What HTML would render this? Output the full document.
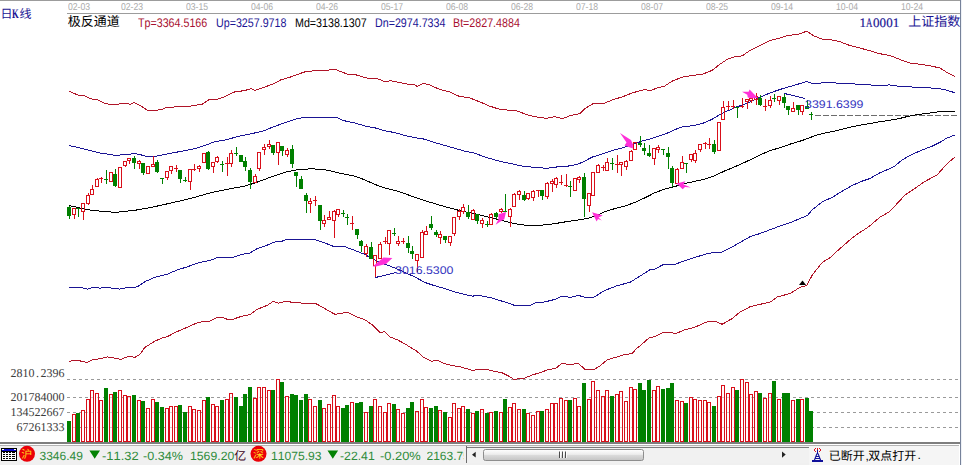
<!DOCTYPE html>
<html><head><meta charset="utf-8"><title>K</title>
<style>
html,body{margin:0;padding:0;background:#fff;}
body{width:962px;height:465px;position:relative;overflow:hidden;font-family:"Liberation Sans",sans-serif;text-rendering:geometricPrecision;font-kerning:none;}
.t{position:absolute;white-space:nowrap;line-height:1;transform-origin:0 0;}
.d{font-size:10px;color:#ababab;top:2.8px;transform:scaleX(.865);}
.v{font-size:12.5px;top:17px;transform:scaleX(.855);}
.s{font-size:12px;color:#2e8b3a;top:449.6px;}
.m{font-family:"Liberation Serif",serif;font-size:12px;color:#3c3c3c;}
.m i{display:inline-block;width:6px;font-style:normal;text-align:center}

.k{font-family:"Liberation Serif",serif;font-size:13px;-webkit-text-stroke:.2px #1a1494;}
.k i{display:inline-block;width:6.65px;font-style:normal;}
.k b{display:inline-block;font-weight:normal;transform:scaleX(.68);transform-origin:0 0}
#sb{position:absolute;left:0;top:445px;width:959px;height:20px;background:#f0f0f0;border-top:1px solid #b4b4b4;box-sizing:border-box}
</style></head><body>
<div style="position:absolute;left:0;top:0;width:962px;height:1px;background:#9c9c9c"></div>
<div style="position:absolute;left:67px;top:13px;width:894px;height:1px;background:#9c9c9c"></div>
<div style="position:absolute;left:960px;top:0;width:1px;height:465px;background:#76829a"></div><div style="position:absolute;left:961px;top:0;width:1px;height:465px;background:#eef1f6"></div>
<div style="position:absolute;left:0;top:442px;width:960px;height:2px;background:#7e7e7e"></div>
<div id="sb"></div><div style="position:absolute;left:809px;top:446px;width:150px;height:19px;background:#f5f5f5"></div>
<svg width="962" height="465" viewBox="0 0 962 465" style="position:absolute;left:0;top:0">
<g shape-rendering="crispEdges"><line x1="67" y1="379.5" x2="958" y2="379.5" stroke="#9a9a9a" stroke-width="1" stroke-dasharray="3 3"/>
<line x1="67" y1="397.5" x2="958" y2="397.5" stroke="#9a9a9a" stroke-width="1" stroke-dasharray="3 3"/>
<line x1="67" y1="412.5" x2="958" y2="412.5" stroke="#9a9a9a" stroke-width="1" stroke-dasharray="3 3"/>
<line x1="67" y1="427.5" x2="958" y2="427.5" stroke="#9a9a9a" stroke-width="1" stroke-dasharray="3 3"/>
<line x1="815" y1="115.5" x2="957" y2="115.5" stroke="#6c6c6c" stroke-width="1" stroke-dasharray="6 2"/>
<path d="M69.2 91.1 L78.7 95.4 L85.0 95.9 L91.2 98.9 L97.4 99.9 L103.7 102.8 L110.0 104.6 L116.1 104.6 L121.1 103.6 L127.4 103.6 L130.0 104.3 L134.1 102.6 L139.8 105.3 L147.3 110.1 L153.6 110.6 L162.3 109.3 L166.0 107.6 L177.3 106.8 L189.7 106.3 L196.0 105.1 L202.2 104.3 L209.0 99.6 L217.2 99.4 L224.7 96.6 L234.7 91.9 L244.6 90.6 L250.9 88.6 L254.6 90.4 L262.1 87.9 L272.1 84.4 L280.8 79.9 L289.5 77.4 L297.5 74.4 L306.2 71.4 L317.4 70.7 L327.4 70.2 L334.9 69.2 L339.9 71.2 L347.4 74.1 L357.4 75.1 L364.9 77.6 L371.1 78.9 L376.1 78.1 L386.1 82.1 L389.8 80.6 L399.8 82.6 L407.3 84.1 L413.5 84.4 L417.3 86.4 L423.5 83.4 L429.7 84.9 L439.7 89.4 L449.7 91.9 L459.7 96.6 L468.4 97.4 L479.6 101.8 L489.6 106.1 L499.6 109.3 L509.6 110.3 L514.6 110.3 L522.0 112.8 L527.5 114.8 L535.0 116.8 L546.2 118.3 L554.9 116.6 L562.4 118.6 L571.1 115.3 L579.9 113.6 L584.9 108.6 L593.6 103.3 L604.8 103.1 L613.6 99.4 L622.3 96.9 L632.3 92.9 L644.8 89.4 L649.7 90.9 L657.2 87.9 L664.7 86.1 L672.2 81.1 L682.2 77.1 L692.2 75.4 L702.1 74.4 L712.1 70.4 L719.6 64.4 L727.1 59.4 L734.6 56.9 L742.1 55.9 L750.0 50.5 L760.0 45.5 L769.9 40.5 L779.9 38.0 L787.4 35.5 L797.4 34.5 L806.8 31.2 L813.6 35.7 L822.3 39.2 L832.3 40.0 L839.8 41.7 L849.8 45.5 L859.7 48.0 L869.7 50.7 L879.7 53.7 L889.7 55.4 L899.6 59.4 L909.6 62.9 L919.6 64.2 L929.6 65.7 L939.6 67.9 L947.0 72.4 L955.0 76.6" fill="none" stroke="#b01428" stroke-width="1" stroke-linejoin="round"/>
<path d="M69.2 361.2 L77.5 360.4 L87.4 362.4 L92.4 359.9 L99.9 358.7 L107.4 356.9 L113.6 357.9 L121.1 359.4 L128.6 356.2 L134.8 357.4 L139.8 354.5 L144.8 347.5 L154.8 341.2 L162.3 337.8 L167.3 336.6 L177.3 331.5 L187.2 327.3 L197.2 322.8 L204.7 321.3 L209.7 321.1 L217.2 317.3 L222.2 317.3 L227.2 319.3 L233.4 319.1 L242.1 316.1 L249.6 314.8 L257.1 309.4 L267.1 305.4 L273.3 301.4 L278.3 303.1 L287.0 301.1 L292.0 302.4 L300.0 302.9 L307.5 303.6 L315.0 303.1 L324.9 308.6 L334.9 314.3 L339.9 313.6 L347.4 312.3 L354.9 316.1 L364.9 319.8 L372.3 324.8 L379.8 332.3 L384.8 331.8 L389.8 336.8 L397.3 339.8 L404.8 343.8 L412.3 348.5 L416.2 350.7 L423.7 357.4 L431.2 361.2 L437.4 360.4 L444.9 363.7 L452.4 365.7 L459.9 366.7 L472.4 370.4 L479.8 369.4 L486.1 369.2 L493.6 371.2 L502.3 372.9 L509.8 376.7 L513.5 379.2 L523.5 378.7 L532.2 374.9 L539.7 372.9 L547.2 369.9 L555.9 368.2 L562.2 363.2 L569.7 364.9 L578.4 363.2 L584.6 369.2 L593.4 369.9 L599.6 366.2 L607.1 359.9 L617.1 356.9 L624.6 354.5 L632.0 353.7 L637.0 348.0 L639.8 346.0 L649.7 337.3 L654.7 336.8 L663.5 332.3 L669.7 332.3 L675.9 333.6 L684.7 329.8 L694.7 327.3 L707.1 321.8 L714.6 321.1 L722.1 324.3 L732.1 318.6 L739.6 312.3 L750.0 306.8 L760.0 304.3 L769.9 302.3 L777.4 296.9 L789.9 293.6 L799.9 287.4 L806.8 285.6 L812.3 274.9 L822.3 262.4 L829.8 257.9 L839.8 248.7 L849.8 240.0 L856.0 235.0 L862.2 231.0 L869.7 226.0 L879.7 217.3 L889.7 211.6 L897.1 203.6 L904.6 195.4 L914.6 188.6 L924.6 181.6 L937.1 174.9 L947.0 163.7 L955.0 156.9" fill="none" stroke="#b01428" stroke-width="1" stroke-linejoin="round"/>
<path d="M69.2 145.5 L80.0 148.0 L89.9 150.5 L99.9 153.0 L109.9 154.5 L116.1 155.4 L124.9 154.5 L134.8 153.7 L139.8 154.5 L146.1 156.4 L154.8 156.4 L164.8 154.5 L174.8 152.5 L184.8 150.7 L194.7 148.7 L204.7 145.5 L214.7 141.7 L224.7 140.2 L234.7 137.4 L244.6 135.0 L254.6 133.0 L264.6 130.7 L272.1 127.3 L284.6 122.8 L290.0 121.0 L297.5 118.6 L306.2 117.3 L317.4 117.3 L336.2 117.3 L343.6 120.6 L354.9 123.0 L364.9 126.0 L374.8 127.8 L384.8 130.8 L394.8 132.6 L404.8 135.5 L414.8 137.6 L424.7 139.2 L434.7 142.5 L444.7 145.5 L454.7 148.2 L464.7 151.2 L474.6 153.2 L484.6 156.9 L494.6 159.9 L504.6 162.4 L514.6 164.4 L522.0 166.0 L530.0 166.9 L540.0 167.9 L547.4 168.2 L557.4 166.9 L567.4 166.2 L577.4 164.4 L584.9 161.0 L592.4 157.0 L602.3 154.0 L612.3 150.5 L622.3 148.0 L632.3 144.5 L642.3 141.0 L652.2 138.3 L662.2 135.0 L667.0 133.3 L672.2 130.8 L677.0 128.8 L682.2 127.0 L692.2 125.8 L702.1 123.6 L712.1 119.3 L719.6 114.8 L727.1 111.1 L737.1 106.8 L744.6 104.3 L752.0 101.0 L760.0 97.3 L769.9 93.0 L779.9 89.5 L789.9 86.5 L799.9 83.6 L806.8 81.4 L812.3 83.6 L822.3 82.9 L832.3 82.9 L839.8 83.1 L849.8 83.6 L859.7 84.4 L869.7 84.9 L879.7 85.6 L889.7 84.9 L899.6 86.4 L909.6 86.9 L919.6 87.4 L929.6 87.9 L939.6 88.6 L947.0 90.3 L955.0 92.8" fill="none" stroke="#1a1494" stroke-width="1" stroke-linejoin="round"/>
<path d="M69.2 287.4 L80.0 287.4 L87.4 289.1 L92.4 287.4 L99.9 288.1 L106.2 287.4 L113.6 288.4 L119.9 289.1 L127.4 287.6 L137.3 286.9 L144.8 281.7 L154.8 277.4 L167.3 274.2 L177.3 269.9 L187.2 266.9 L197.2 263.2 L204.7 261.2 L209.7 260.7 L217.2 257.5 L232.2 257.5 L242.1 254.2 L249.6 253.2 L257.1 248.7 L264.6 246.2 L274.6 242.0 L282.0 241.2 L287.0 239.2 L292.0 240.0 L300.0 239.0 L307.5 239.0 L315.0 239.6 L324.9 243.0 L334.9 247.0 L344.9 246.7 L354.9 250.5 L364.9 254.5 L374.8 260.0 L384.8 264.2 L394.8 267.9 L404.8 272.4 L414.8 276.9 L424.7 282.4 L434.7 285.7 L444.7 288.6 L454.7 291.9 L464.7 294.4 L472.1 296.1 L479.6 295.6 L489.6 297.4 L499.6 300.4 L509.6 303.6 L514.6 305.4 L530.0 305.4 L535.0 302.9 L545.0 301.9 L554.9 299.4 L562.4 296.1 L569.9 297.4 L578.6 295.4 L584.9 297.4 L593.6 297.4 L604.8 290.4 L617.3 285.6 L629.8 282.4 L639.8 276.2 L649.7 269.9 L654.7 269.2 L663.5 264.4 L674.7 264.4 L684.7 260.7 L694.7 257.5 L707.1 253.7 L714.6 252.5 L722.1 252.0 L732.1 247.0 L742.1 241.2 L750.0 236.8 L760.0 233.5 L769.9 229.8 L779.9 226.0 L789.9 222.8 L799.9 218.6 L807.3 215.6 L812.3 209.8 L822.3 201.8 L832.3 197.3 L842.3 191.1 L852.2 185.4 L862.2 181.1 L869.7 178.6 L879.7 172.9 L889.7 168.7 L894.7 166.2 L902.1 159.9 L912.1 154.4 L922.1 150.0 L932.1 146.2 L939.6 142.5 L947.0 138.0 L955.0 135.0" fill="none" stroke="#1a1494" stroke-width="1" stroke-linejoin="round"/>
<path d="M69.2 205.6 L75.0 206.8 L85.0 209.3 L94.9 210.6 L104.9 211.6 L116.1 212.3 L124.9 211.3 L134.8 210.3 L144.8 208.6 L154.8 206.6 L164.8 204.4 L174.8 202.1 L184.8 199.9 L194.7 197.4 L204.7 194.4 L214.7 191.9 L224.7 189.9 L234.7 187.9 L244.6 186.1 L254.6 183.1 L264.6 179.4 L274.6 175.7 L284.6 172.4 L292.0 170.7 L300.0 169.4 L310.0 168.9 L322.4 169.2 L332.4 171.4 L342.4 173.7 L354.9 176.2 L364.9 179.9 L374.8 184.4 L384.8 187.9 L394.8 190.4 L404.8 193.6 L414.8 197.4 L424.7 200.6 L434.7 203.6 L444.7 206.6 L454.7 209.3 L464.7 211.8 L474.6 213.6 L484.6 216.1 L494.6 218.6 L504.6 221.1 L514.6 223.6 L522.0 224.8 L530.0 225.6 L540.0 225.3 L549.9 224.3 L559.9 222.8 L569.9 221.1 L579.9 219.8 L589.9 217.8 L594.9 216.1 L604.8 211.8 L614.8 208.6 L624.8 206.1 L634.8 202.4 L644.8 197.9 L654.7 192.8 L664.7 189.1 L674.7 186.6 L684.7 183.4 L694.7 181.4 L704.6 179.2 L714.6 175.7 L724.6 171.0 L734.6 166.9 L744.6 162.4 L754.5 157.8 L760.0 155.0 L769.9 150.7 L779.9 147.7 L789.9 144.2 L799.9 141.2 L807.3 138.7 L814.8 135.7 L824.8 133.0 L834.8 131.0 L839.8 129.8 L849.8 127.3 L859.7 125.3 L869.7 123.5 L879.7 121.8 L889.7 120.3 L899.6 118.5 L909.6 116.0 L919.6 114.3 L929.6 113.0 L939.6 111.6 L947.0 111.3 L955.0 111.3" fill="none" stroke="#000" stroke-width="1" stroke-linejoin="round"/>
<path d="M67 421h4V442h-4zM76 413h4V442h-4zM104 388h4V442h-4zM113 392h4V442h-4zM132 395h4V442h-4zM141 401h4V442h-4zM155 402h4V442h-4zM160 407h4V442h-4zM178 405h4V442h-4zM183 412h4V442h-4zM206 397h4V442h-4zM220 400h4V442h-4zM234 397h4V442h-4zM239 406h4V442h-4zM243 394h4V442h-4zM248 387h4V442h-4zM271 390h4V442h-4zM280 382h4V442h-4zM290 394h4V442h-4zM294 395h4V442h-4zM299 400h4V442h-4zM304 394h4V442h-4zM318 400h4V442h-4zM341 408h4V442h-4zM345 405h4V442h-4zM355 403h4V442h-4zM359 402h4V442h-4zM369 406h4V442h-4zM392 404h4V442h-4zM406 408h4V442h-4zM410 402h4V442h-4zM429 408h4V442h-4zM434 406h4V442h-4zM443 412h4V442h-4zM466 409h4V442h-4zM475 411h4V442h-4zM485 413h4V442h-4zM494 411h4V442h-4zM503 399h4V442h-4zM522 409h4V442h-4zM540 411h4V442h-4zM568 400h4V442h-4zM582 383h4V442h-4zM610 396h4V442h-4zM638 383h4V442h-4zM642 390h4V442h-4zM647 380h4V442h-4zM661 389h4V442h-4zM666 388h4V442h-4zM670 383h4V442h-4zM684 403h4V442h-4zM712 406h4V442h-4zM735 390h4V442h-4zM758 393h4V442h-4zM772 381h4V442h-4zM782 393h4V442h-4zM786 393h4V442h-4zM796 399h4V442h-4zM805 398h4V442h-4zM809 411h4V442h-4z" fill="#008000"/>
<path d="M72.5 441.5V414.5h3V441.5zM81.5 441.5V410.5h3V441.5zM86.5 441.5V399.5h3V441.5zM90.5 441.5V390.5h3V441.5zM95.5 441.5V393.5h3V441.5zM99.5 441.5V400.5h3V441.5zM109.5 441.5V394.5h3V441.5zM118.5 441.5V390.5h3V441.5zM123.5 441.5V395.5h3V441.5zM127.5 441.5V396.5h3V441.5zM137.5 441.5V400.5h3V441.5zM146.5 441.5V408.5h3V441.5zM151.5 441.5V399.5h3V441.5zM165.5 441.5V408.5h3V441.5zM169.5 441.5V406.5h3V441.5zM174.5 441.5V406.5h3V441.5zM188.5 441.5V406.5h3V441.5zM192.5 441.5V409.5h3V441.5zM197.5 441.5V410.5h3V441.5zM202.5 441.5V400.5h3V441.5zM211.5 441.5V404.5h3V441.5zM215.5 441.5V406.5h3V441.5zM225.5 441.5V399.5h3V441.5zM229.5 441.5V393.5h3V441.5zM253.5 441.5V398.5h3V441.5zM257.5 441.5V387.5h3V441.5zM262.5 441.5V387.5h3V441.5zM267.5 441.5V390.5h3V441.5zM276.5 441.5V379.5h3V441.5zM285.5 441.5V396.5h3V441.5zM308.5 441.5V399.5h3V441.5zM313.5 441.5V406.5h3V441.5zM322.5 441.5V408.5h3V441.5zM327.5 441.5V404.5h3V441.5zM332.5 441.5V395.5h3V441.5zM336.5 441.5V406.5h3V441.5zM350.5 441.5V402.5h3V441.5zM364.5 441.5V412.5h3V441.5zM373.5 441.5V399.5h3V441.5zM378.5 441.5V406.5h3V441.5zM383.5 441.5V412.5h3V441.5zM387.5 441.5V403.5h3V441.5zM396.5 441.5V409.5h3V441.5zM401.5 441.5V413.5h3V441.5zM415.5 441.5V411.5h3V441.5zM420.5 441.5V399.5h3V441.5zM424.5 441.5V407.5h3V441.5zM438.5 441.5V410.5h3V441.5zM448.5 441.5V417.5h3V441.5zM452.5 441.5V403.5h3V441.5zM457.5 441.5V408.5h3V441.5zM461.5 441.5V406.5h3V441.5zM471.5 441.5V413.5h3V441.5zM480.5 441.5V409.5h3V441.5zM489.5 441.5V412.5h3V441.5zM499.5 441.5V412.5h3V441.5zM508.5 441.5V407.5h3V441.5zM512.5 441.5V403.5h3V441.5zM517.5 441.5V409.5h3V441.5zM526.5 441.5V413.5h3V441.5zM531.5 441.5V415.5h3V441.5zM536.5 441.5V411.5h3V441.5zM545.5 441.5V409.5h3V441.5zM550.5 441.5V403.5h3V441.5zM554.5 441.5V403.5h3V441.5zM559.5 441.5V398.5h3V441.5zM564.5 441.5V400.5h3V441.5zM573.5 441.5V398.5h3V441.5zM577.5 441.5V406.5h3V441.5zM587.5 441.5V399.5h3V441.5zM591.5 441.5V381.5h3V441.5zM596.5 441.5V390.5h3V441.5zM601.5 441.5V396.5h3V441.5zM605.5 441.5V390.5h3V441.5zM615.5 441.5V394.5h3V441.5zM619.5 441.5V391.5h3V441.5zM624.5 441.5V401.5h3V441.5zM629.5 441.5V387.5h3V441.5zM633.5 441.5V389.5h3V441.5zM652.5 441.5V390.5h3V441.5zM656.5 441.5V386.5h3V441.5zM675.5 441.5V400.5h3V441.5zM680.5 441.5V401.5h3V441.5zM689.5 441.5V397.5h3V441.5zM693.5 441.5V399.5h3V441.5zM698.5 441.5V400.5h3V441.5zM703.5 441.5V400.5h3V441.5zM707.5 441.5V402.5h3V441.5zM717.5 441.5V396.5h3V441.5zM721.5 441.5V385.5h3V441.5zM726.5 441.5V393.5h3V441.5zM731.5 441.5V387.5h3V441.5zM740.5 441.5V379.5h3V441.5zM745.5 441.5V382.5h3V441.5zM749.5 441.5V394.5h3V441.5zM754.5 441.5V391.5h3V441.5zM763.5 441.5V398.5h3V441.5zM768.5 441.5V393.5h3V441.5zM777.5 441.5V399.5h3V441.5zM791.5 441.5V400.5h3V441.5zM800.5 441.5V399.5h3V441.5z" fill="rgba(255,250,250,.55)" stroke="#d80f1a" stroke-width="1"/>
<path d="M69.5 206V219M78.5 208V217M76 208.5h4M106.5 170V184M104 179.5h4M115.5 169V187M134.5 156V169M143.5 163V175M157.5 160V173M162.5 178V184M160 178.5h4M180.5 170V183M185.5 177V182M183 180.5h4M208.5 151V170M222.5 161V172M220 164.5h4M236.5 147V156M234 153.5h4M241.5 155V162M245.5 157V171M250.5 168V189M273.5 145V155M282.5 146V156M292.5 145V168M296.5 172V187M301.5 176V189M306.5 193V213M320.5 205V230M343.5 210V217M341 213.5h4M347.5 214V225M345 217.5h4M357.5 229V239M361.5 240V252M371.5 242V259M394.5 228V236M392 233.5h4M408.5 236V253M412.5 246V259M431.5 216V230M436.5 230V237M445.5 236V243M468.5 205V219M477.5 214V224M487.5 221V227M485 224.5h4M496.5 212V219M505.5 194V212M503 211.5h4M524.5 191V201M542.5 190V200M570.5 181V197M568 186.5h4M584.5 173V217M612.5 158V170M610 163.5h4M640.5 136V147M644.5 143V155M649.5 145V157M663.5 149V155M661 149.5h4M668.5 147V169M672.5 166V187M686.5 163V173M684 163.5h4M714.5 140V154M737.5 107V118M735 107.5h4M760.5 95V106M774.5 94V102M772 98.5h4M784.5 93V108M788.5 106V115M798.5 105V115M807.5 100V109M811.5 112V120M809 114.5h4" stroke="#008000" stroke-width="1" fill="none"/>
<path d="M67 207h4V216h-4zM113 174h4V186h-4zM132 158h4V163h-4zM141 163h4V173h-4zM155 162h4V172h-4zM178 170h4V179h-4zM206 152h4V169h-4zM239 155h4V162h-4zM243 161h4V167h-4zM248 170h4V182h-4zM271 145h4V153h-4zM280 146h4V151h-4zM290 149h4V164h-4zM294 172h4V176h-4zM299 179h4V189h-4zM304 195h4V201h-4zM318 205h4V221h-4zM355 229h4V235h-4zM359 241h4V246h-4zM369 247h4V259h-4zM406 243h4V248h-4zM410 251h4V254h-4zM429 224h4V228h-4zM434 232h4V235h-4zM443 236h4V240h-4zM466 212h4V217h-4zM475 214h4V221h-4zM494 213h4V217h-4zM522 195h4V200h-4zM540 190h4V196h-4zM582 177h4V199h-4zM638 143h4V145h-4zM642 148h4V151h-4zM647 153h4V156h-4zM666 153h4V157h-4zM670 168h4V183h-4zM712 144h4V152h-4zM758 98h4V105h-4zM782 97h4V103h-4zM786 106h4V110h-4zM796 105h4V110h-4zM805 106h4V109h-4z" fill="#008000"/>
<path d="M74.5 215V219M83.5 212V220M88.5 193V195M88.5 204V205M92.5 185V189M97.5 178V179M101.5 177V183M99 178.5h4M125.5 166V167M129.5 161V164M139.5 160V161M139.5 164V169M153.5 156V164M167.5 178V180M171.5 171V174M176.5 165V172M174 168.5h4M190.5 182V190M194.5 164V171M192 169.5h4M199.5 165V166M199.5 169V172M213.5 167V173M217.5 156V157M217.5 162V163M227.5 157V176M225 163.5h4M231.5 150V153M231.5 164V167M255.5 174V176M259.5 169V171M264.5 144V147M264.5 150V155M269.5 140V144M269.5 147V149M278.5 153V165M287.5 148V150M287.5 155V157M310.5 198V201M310.5 204V213M315.5 196V206M313 200.5h4M324.5 215V220M324.5 224V227M329.5 211V217M334.5 210V211M334.5 221V238M338.5 215V217M352.5 216V230M350 223.5h4M366.5 244V246M366.5 254V257M375.5 266V277M380.5 242V244M385.5 237V244M383 241.5h4M389.5 244V255M398.5 236V241M398.5 244V246M403.5 238V244M401 241.5h4M417.5 261V272M422.5 230V232M426.5 226V231M440.5 231V234M440.5 238V244M450.5 243V246M454.5 234V236M459.5 209V211M459.5 217V220M463.5 204V207M463.5 212V214M473.5 209V210M482.5 218V220M482.5 224V228M491.5 213V214M501.5 208V209M501.5 212V213M510.5 208V209M510.5 217V227M514.5 193V194M519.5 190V191M519.5 195V200M528.5 199V200M533.5 190V191M533.5 198V201M538.5 190V197M536 190.5h4M547.5 182V183M547.5 197V199M552.5 179V181M552.5 184V192M556.5 177V178M556.5 185V188M561.5 175V185M559 182.5h4M566.5 174V187M564 185.5h4M579.5 176V177M579.5 180V183M589.5 206V212M598.5 164V165M603.5 165V171M601 167.5h4M607.5 158V162M617.5 155V173M615 164.5h4M621.5 165V176M626.5 160V161M626.5 167V170M631.5 150V151M654.5 159V165M658.5 145V147M658.5 150V153M677.5 168V169M682.5 156V162M691.5 160V162M695.5 150V153M695.5 161V163M700.5 150V152M705.5 142V149M703 143.5h4M709.5 138V149M707 144.5h4M723.5 101V107M728.5 101V110M726 106.5h4M733.5 100V109M731 106.5h4M742.5 98V108M740 106.5h4M747.5 102V109M751.5 101V103M756.5 93V96M756.5 100V105M765.5 99V111M763 106.5h4M770.5 96V100M770.5 106V108M779.5 101V105M793.5 102V108M802.5 112V115" stroke="#d80f1a" stroke-width="1" fill="none"/>
<path d="M72.5 208.5h3V214.5h-3zM81.5 203.5h3V211.5h-3zM86.5 195.5h3V203.5h-3zM90.5 189.5h3V194.5h-3zM95.5 179.5h3V186.5h-3zM109.5 172.5h3V181.5h-3zM118.5 167.5h3V187.5h-3zM123.5 161.5h3V165.5h-3zM127.5 158.5h3V160.5h-3zM137.5 161.5h3V163.5h-3zM146.5 166.5h3V173.5h-3zM151.5 164.5h3V166.5h-3zM165.5 171.5h3V177.5h-3zM169.5 166.5h3V170.5h-3zM188.5 169.5h3V181.5h-3zM197.5 166.5h3V168.5h-3zM202.5 153.5h3V162.5h-3zM211.5 162.5h3V166.5h-3zM215.5 157.5h3V161.5h-3zM229.5 153.5h3V163.5h-3zM253.5 176.5h3V182.5h-3zM257.5 152.5h3V168.5h-3zM262.5 147.5h3V149.5h-3zM267.5 144.5h3V146.5h-3zM276.5 142.5h3V152.5h-3zM285.5 150.5h3V154.5h-3zM308.5 201.5h3V203.5h-3zM322.5 220.5h3V223.5h-3zM327.5 217.5h3V219.5h-3zM332.5 211.5h3V220.5h-3zM336.5 209.5h3V214.5h-3zM364.5 246.5h3V253.5h-3zM373.5 255.5h3V265.5h-3zM378.5 244.5h3V258.5h-3zM387.5 230.5h3V243.5h-3zM396.5 241.5h3V243.5h-3zM415.5 254.5h3V260.5h-3zM420.5 232.5h3V257.5h-3zM424.5 231.5h3V234.5h-3zM438.5 234.5h3V237.5h-3zM448.5 236.5h3V242.5h-3zM452.5 217.5h3V233.5h-3zM457.5 211.5h3V216.5h-3zM461.5 207.5h3V211.5h-3zM471.5 210.5h3V219.5h-3zM480.5 220.5h3V223.5h-3zM489.5 214.5h3V224.5h-3zM499.5 209.5h3V211.5h-3zM508.5 209.5h3V216.5h-3zM512.5 194.5h3V206.5h-3zM517.5 191.5h3V194.5h-3zM526.5 193.5h3V198.5h-3zM531.5 191.5h3V197.5h-3zM545.5 183.5h3V196.5h-3zM550.5 181.5h3V183.5h-3zM554.5 178.5h3V184.5h-3zM573.5 178.5h3V190.5h-3zM577.5 177.5h3V179.5h-3zM587.5 193.5h3V205.5h-3zM591.5 172.5h3V195.5h-3zM596.5 165.5h3V172.5h-3zM605.5 162.5h3V170.5h-3zM619.5 162.5h3V164.5h-3zM624.5 161.5h3V166.5h-3zM629.5 151.5h3V160.5h-3zM633.5 142.5h3V149.5h-3zM652.5 148.5h3V158.5h-3zM656.5 147.5h3V149.5h-3zM675.5 169.5h3V183.5h-3zM680.5 162.5h3V168.5h-3zM689.5 154.5h3V159.5h-3zM693.5 153.5h3V160.5h-3zM698.5 144.5h3V149.5h-3zM717.5 122.5h3V150.5h-3zM721.5 107.5h3V119.5h-3zM745.5 99.5h3V101.5h-3zM749.5 98.5h3V100.5h-3zM754.5 96.5h3V99.5h-3zM768.5 100.5h3V105.5h-3zM777.5 96.5h3V100.5h-3zM791.5 108.5h3V111.5h-3zM800.5 105.5h3V111.5h-3z" stroke="#d80f1a" stroke-width="1" fill="none"/>
<path d="M375.5 277.5L396 272.5M784.5 93.5L805 98.5" stroke="#1a1494" stroke-width="1" fill="none"/></g>
<g><path d="M372.7 266.5L383.4 257.4L392.4 258L386 264L376 266.5z" fill="#ff30d8"/>
<path d="M495.6 224.8L498.5 219.3L498.4 214.2L506 212L504.3 219.3L501.6 220.8z" fill="#ff30d8"/>
<path d="M620 133L631 140L633 144.5L632.8 148.5L624.5 145.5L626.5 142.5z" fill="#ff30d8"/>
<path d="M592.1 212.3L602.8 215.5L598.5 217.5L601.8 220.5L598 219L596.6 221.6z" fill="#ff30d8"/>
<path d="M676.6 183.5L685.3 181.3L683.5 184.5L691 187.5L685 187L682.7 189.2z" fill="#ff30d8"/>
<path d="M742 91.8L748.6 91.8L749.6 89.4L757.8 98L751.5 98.2L747.8 97.4L747.3 94.8z" fill="#ff30d8"/>
<path d="M799 285L802.5 280.5L806 285z" fill="#000"/>
<text x="0.5" y="18" font-size="12" fill="#1a1494" font-family="'Liberation Sans','Noto Sans CJK SC',sans-serif">日</text>
<text x="19.6" y="18" font-size="12" fill="#1a1494" font-family="'Liberation Sans','Noto Sans CJK SC',sans-serif">线</text>
<text x="67.8" y="26" font-size="13" fill="#000" font-family="'Liberation Sans','Noto Sans CJK SC',sans-serif">极反通道</text>
<text x="908.3" y="26" font-size="13" fill="#1a1494" font-family="'Liberation Sans','Noto Sans CJK SC',sans-serif">上证指数</text>
<text x="234.3" y="459.7" font-size="12" fill="#3a0018" font-family="'Liberation Sans','Noto Sans CJK SC',sans-serif">亿</text>
<text x="828.8" y="460" font-size="12" fill="#000" font-family="'Liberation Sans','Noto Sans CJK SC',sans-serif">已断开</text>
<text x="865.4" y="459.6" font-size="12" fill="#000" font-family="'Liberation Sans','Noto Sans CJK SC',sans-serif">,</text>
<text x="868.2" y="460" font-size="12" fill="#000" font-family="'Liberation Sans','Noto Sans CJK SC',sans-serif">双点打开</text>
<text x="917.4" y="459.4" font-size="12" fill="#000" font-family="'Liberation Sans','Noto Sans CJK SC',sans-serif">.</text>
<circle cx="27" cy="453.8" r="8" fill="#ea0008"/>
<text x="26.8" y="458.2" font-size="11" fill="#ffd61e" text-anchor="middle" font-family="'Liberation Sans','Noto Sans CJK SC',sans-serif">沪</text>
<circle cx="258.5" cy="453.8" r="8" fill="#ea0008"/>
<text x="258.4" y="458.2" font-size="11" fill="#ffd61e" text-anchor="middle" font-family="'Liberation Sans','Noto Sans CJK SC',sans-serif">深</text>
<path d="M89.4 450.6H100L94.7 458.8zM327.5 450.6H338.1L332.8 458.8z" fill="#058205"/>
<defs><linearGradient id="tg" x1="0" y1="0" x2="0" y2="1"><stop offset="0" stop-color="#ffffff"/><stop offset=".45" stop-color="#ececec"/><stop offset=".5" stop-color="#dcdcdc"/><stop offset="1" stop-color="#c4c4c4"/></linearGradient></defs>
<rect x="467" y="447" width="342" height="16" fill="#f1f1f1"/>
<rect x="483.5" y="449.5" width="160" height="11" rx="2" ry="2" fill="url(#tg)" stroke="#8e8e8e" stroke-width="1"/>
<path d="M475.7 451.8L472 454.7L475.7 457.6zM782 451.6L785.7 454.6L782 457.7z" fill="#222"/>
<path d="M559.5 451.5V458M562.5 451.5V458M565.5 451.5V458" stroke="#4a4a4a" stroke-width="1" fill="none"/>
<path d="M560.5 451.5V458M563.5 451.5V458M566.5 451.5V458" stroke="#fff" stroke-width="1" fill="none" opacity=".8"/></g>
<g shape-rendering="crispEdges"><path d="M466.5 446V463" stroke="#6e6e6e" stroke-width="1"/>
<path d="M467 447.5H809" stroke="#7c7c7c" stroke-width="1"/>
<rect x="1.5" y="448.5" width="15" height="12" fill="#fff" stroke="#000" stroke-width="1"/>
<rect x="2" y="449" width="14" height="2" fill="#0a0ad0"/>
<path d="M2 449.5h2M14 449.5h2" stroke="#fff" stroke-width="1"/>
<path d="M2 451.5h14" stroke="#000" stroke-width="1"/>
<path d="M3 452.5h2M6 452.5h2M9 452.5h2M12 452.5h3M3 454.5h2M6 454.5h2M9 454.5h2M12 454.5h3M3 456.5h2M6 456.5h2M9 456.5h2M12 456.5h3M3 458.5h2M6 458.5h2M9 458.5h2M12 458.5h3" stroke="#000" stroke-width="1"/>
<path d="M817.5 449V454M816 456.5h3M815 458.5h5" stroke="#10109a" stroke-width="1" fill="none"/>
<path d="M812 461h11" stroke="#10109a" stroke-width="1.6"/>
<path d="M815.5 448v1M814.5 449v2M815.5 451v1M819.5 448v1M820.5 449v2M819.5 451v1" stroke="#d81020" stroke-width="1"/>
<rect x="817" y="448" width="1" height="2" fill="#d81020"/></g>
<g><path d="M817 453.5L814.3 460.5M818 453.5L820.7 460.5" stroke="#10109a" stroke-width="1.1" fill="none"/></g>
</svg>
<div class="t d" style="left:67.5px">02-03</div>
<div class="t d" style="left:120.8px">02-23</div>
<div class="t d" style="left:185.8px">03-15</div>
<div class="t d" style="left:250.8px">04-06</div>
<div class="t d" style="left:315.8px">04-26</div>
<div class="t d" style="left:380.8px">05-17</div>
<div class="t d" style="left:445.8px">06-08</div>
<div class="t d" style="left:510.8px">06-28</div>
<div class="t d" style="left:575.8px">07-18</div>
<div class="t d" style="left:640.8px">08-07</div>
<div class="t d" style="left:705.8px">08-25</div>
<div class="t d" style="left:770.8px">09-14</div>
<div class="t d" style="left:835.8px">10-04</div>
<div class="t d" style="left:900.8px">10-24</div>
<div class="t" style="left:12px;top:7px;font-family:'Liberation Serif',serif;font-weight:bold;font-size:13px;color:#1a1494;transform:scaleX(.66)">K</div>
<div class="t v" style="left:137.8px;color:#a81030">Tp=3364.5166</div>
<div class="t v" style="left:216.1px;color:#1a1494">Up=3257.9718</div>
<div class="t v" style="left:295.3px;color:#000">Md=3138.1307</div>
<div class="t v" style="left:374.5px;color:#1a1494">Dn=2974.7334</div>
<div class="t v" style="left:453.1px;color:#a81030">Bt=2827.4884</div>
<div class="t k" style="left:859.6px;top:15.5px;color:#1a1494"><i>1</i><i><b>A</b></i><i>0</i><i>0</i><i>0</i><i>1</i></div>
<div class="t" style="left:395.2px;top:266px;font-size:11px;color:#3434c0;transform:scaleX(1.125)">3016.5300</div>
<div class="t" style="left:804.6px;top:99.5px;font-size:11px;color:#3434c0;transform:scaleX(1.125)">3391.6399</div>
<div class="t m" style="left:10.5px;top:366.5px">2810<i>.</i>2396</div>
<div class="t m" style="left:10.5px;top:391.3px">201784000</div>
<div class="t m" style="left:10.5px;top:405.6px">134522667</div>
<div class="t m" style="left:16.5px;top:420.7px">67261333</div>
<div class="t s" style="left:39.5px">3346.49</div>
<div class="t s" style="left:101.5px;transform:scaleX(1.075)">-11.32</div>
<div class="t s" style="left:142.8px;transform:scaleX(1.05)">-0.34%</div>
<div class="t s" style="left:189.8px;transform:scaleX(1.02)">1569.20</div>
<div class="t s" style="left:271px;transform:scaleX(1.01)">11075.93</div>
<div class="t s" style="left:340px;transform:scaleX(1.02)">-22.41</div>
<div class="t s" style="left:380.2px;transform:scaleX(1.07)">-0.20%</div>
<div class="t s" style="left:426.5px;width:37.3px;overflow:hidden">2163.75</div>
</body></html>
